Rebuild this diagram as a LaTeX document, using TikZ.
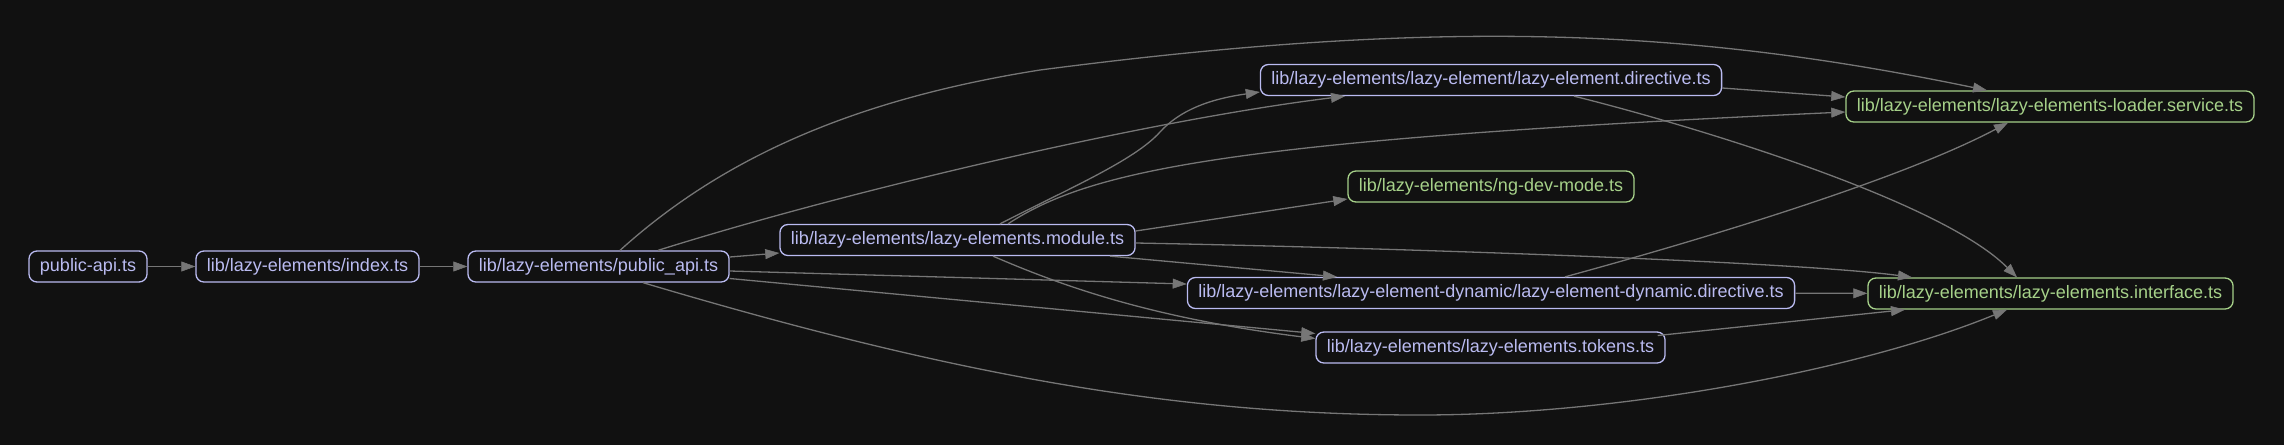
\documentclass[tikz,border=0pt]{standalone}
\usepackage{fontspec}
\setmainfont{Liberation Sans}
\usetikzlibrary{arrows.meta}
\definecolor{bg}{HTML}{111111}
\definecolor{lav}{HTML}{BABBF1}
\definecolor{grn}{HTML}{A6D189}
\definecolor{wire}{HTML}{767676}

\begin{document}
\begin{tikzpicture}[x = 1pt, y = -1pt,
        src/.style = {draw = lav, text = lav, line width = 1.3pt, rounded corners = 8pt,
            minimum height = 31pt, inner xsep = 11pt, font = \fontsize{18}{20}\selectfont},
        leaf/.style = {src, draw = grn, text = grn},
        dep/.style = {draw = wire, line width = 1.3pt,
            -{Triangle[length = 14pt, width = 10pt, fill = wire, line width = 0.5pt]}}
    ]
        \fill [bg] (0, 0) rectangle (2284, 445);

        \node [src] (pub) at (88, 266.5) {public-api.ts};
        \node [src] (idx) at (307.5, 266.5) {lib/lazy-elements/index.ts};
        \node [src] (papi) at (598.5, 266.5) {lib/lazy-elements/public\_api.ts};
        \node [src] (mod) at (957.5, 240) {lib/lazy-elements/lazy-elements.module.ts};
        \node [src] (dir) at (1491, 80) {lib/lazy-elements/lazy-element/lazy-element.directive.ts};
        \node [leaf] (dev) at (1491, 186.5) {lib/lazy-elements/ng-dev-mode.ts};
        \node [src] (dyn) at (1491, 293) {lib/lazy-elements/lazy-element-dynamic/lazy-element-dynamic.directive.ts};
        \node [src] (tok) at (1490.5, 347.5) {lib/lazy-elements/lazy-elements.tokens.ts};
        \node [leaf] (ldr) at (2050, 106.5) {lib/lazy-elements/lazy-elements-loader.service.ts};
        \node [leaf] (ifc) at (2050.5, 293.5) {lib/lazy-elements/lazy-elements.interface.ts};

        \path [every edge/.style = dep]
            (pub) edge (idx)
            (idx) edge (papi)
            ([yshift = 9.5pt]papi.east) edge ([yshift = -13pt]mod.west)
            ([yshift = -4.5pt]papi.east) edge ([yshift = 9pt]dyn.west)
            ([yshift = -12pt]papi.east) edge ([yshift = 14pt]tok.west)
            ([yshift = 9pt]mod.east) edge ([yshift = -12.5pt]dev.west)
            ([xshift = 152.5pt]mod.south) edge ([xshift = -154pt]dyn.north)
            ([yshift = -8pt]dir.east) edge ([yshift = 9.5pt]ldr.west)
            (dyn) edge (ifc)
            ([xshift = -8pt, yshift = 12pt]tok.east) edge ([xshift = -145.5pt]ifc.south)
        ;

        \draw [dep] ([xshift = 59.5pt]papi.north) .. controls (850, 190) and (1150, 120) .. ([xshift = -146pt]dir.south);
        \draw [dep] ([xshift = 42.5pt]mod.north) .. controls (1070, 188) and (1135, 160) .. (1160, 132)
            .. controls (1180, 110) and (1210, 99) .. ([yshift = -12pt]dir.west);
        \draw [dep] ([xshift = 21.5pt]papi.north) .. controls (720, 160) and (850, 100) .. (1040, 70)
            .. controls (1440, 18) and (1686, 28) .. ([xshift = -63pt]ldr.north);
        \draw [dep] ([xshift = 50.5pt]mod.north) .. controls (1090, 170) and (1230, 140) .. ([yshift = -5.5pt]ldr.west);
        \draw [dep] ([xshift = 83pt]dir.south) .. controls (1690, 125) and (1940, 200) .. ([xshift = -33.5pt]ifc.north);
        \draw [dep] ([yshift = -3pt]mod.east) .. controls (1400, 248) and (1800, 262) .. ([xshift = -138.5pt]ifc.north);
        \draw [dep] ([xshift = 35.5pt]mod.south) .. controls (1060, 285) and (1150, 318) .. ([yshift = 9pt]tok.west);
        \draw [dep] ([xshift = 44.5pt]papi.south) .. controls (943, 372) and (1170, 415) .. (1420, 415)
            .. controls (1620, 415) and (1860, 370) .. ([xshift = -43.5pt]ifc.south);
        \draw [dep] ([xshift = 74pt]dyn.north) .. controls (1700, 240) and (1900, 180) .. ([xshift = -42pt]ldr.south);
    \end{tikzpicture}
\end{document}
